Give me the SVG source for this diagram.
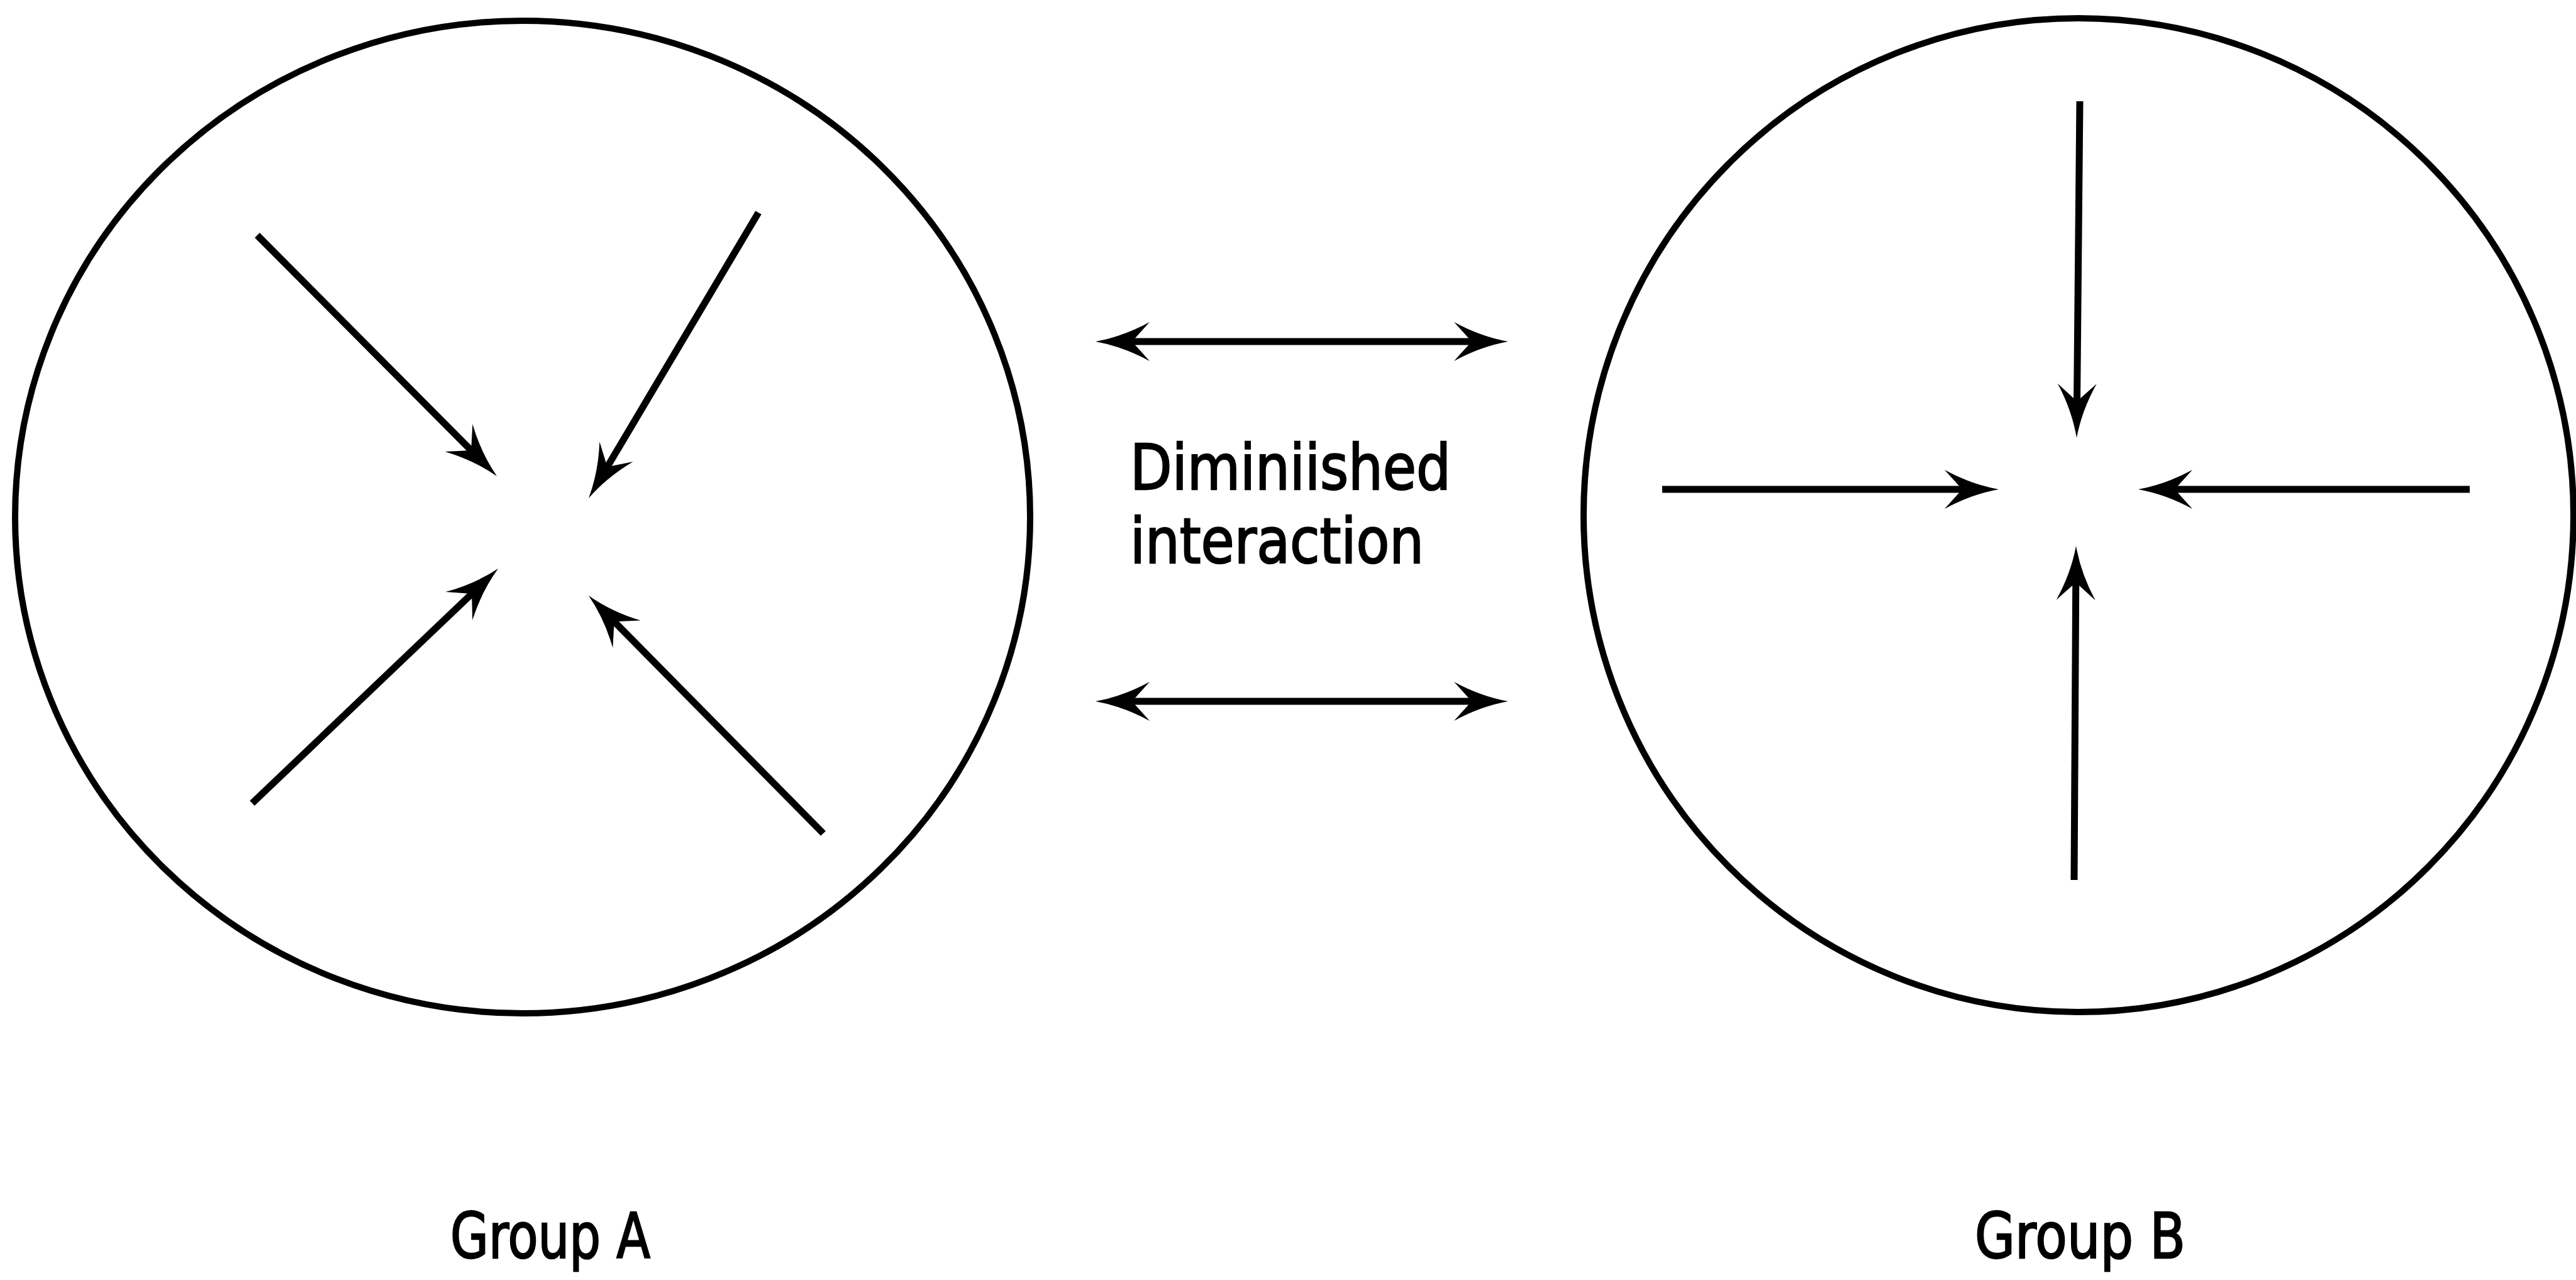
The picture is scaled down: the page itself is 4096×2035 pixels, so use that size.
<svg xmlns="http://www.w3.org/2000/svg" width="4096" height="2035" viewBox="0 0 4096 2035">
  <style>
    .ring { fill: none; stroke: #000; stroke-width: 10; }
    .link { fill: none; stroke: #000; stroke-width: 11; stroke-linecap: butt; }
    .label { font-family: "DejaVu Sans", "Liberation Sans", sans-serif; font-size: 100px; fill: #000; stroke: #000; stroke-width: 2.5; }
  </style>
  <defs>
    <!-- barbed arrowhead, tip 44 units ahead of the line end -->
    <marker id="head" markerUnits="userSpaceOnUse" viewBox="-50 -40 100 80" markerWidth="100" markerHeight="80" refX="0" refY="0" orient="auto-start-reverse" overflow="visible">
      <path d="M44,0 Q0,-8 -42,-31 L-14,0 L-42,31 Q0,8 44,0 Z" fill="#000"/>
    </marker>
  </defs>
  <rect width="4096" height="2035" fill="#fff"/>

  <g id="group-a">
    <ellipse class="ring" cx="831" cy="822" rx="807" ry="789"/>
    <text class="label" x="716" y="2000" textLength="318" lengthAdjust="spacingAndGlyphs">Group A</text>
  </g>

  <g id="group-b">
    <ellipse class="ring" cx="3305" cy="819" rx="787" ry="790"/>
    <text class="label" x="3140" y="2000" textLength="335" lengthAdjust="spacingAndGlyphs">Group B</text>
  </g>

  <g id="interaction-label">
    <text class="label" x="1797" y="778" textLength="510" lengthAdjust="spacingAndGlyphs">Diminiished</text>
    <text class="label" x="1797" y="895" textLength="467" lengthAdjust="spacingAndGlyphs">interaction</text>
  </g>

  <g id="connectors">
    <!-- inward arrows, group A -->
    <path class="link" d="M409,374 L759,725.8" marker-end="url(#head)"/>
    <path class="link" d="M1206,338 L958.5,754.2" marker-end="url(#head)"/>
    <path class="link" d="M401,1277 L760.2,934.4" marker-end="url(#head)"/>
    <path class="link" d="M1309,1325 L966.9,978.3" marker-end="url(#head)"/>
    <!-- inward arrows, group B -->
    <path class="link" d="M3307,161 L3302.4,652" marker-end="url(#head)"/>
    <path class="link" d="M2643,778 L3134,778" marker-end="url(#head)"/>
    <path class="link" d="M3927,778 L3444,778" marker-end="url(#head)"/>
    <path class="link" d="M3298,1399 L3300.8,912" marker-end="url(#head)"/>
    <!-- two-way arrows between the groups -->
    <path class="link" d="M1786,543 L2354,543" marker-start="url(#head)" marker-end="url(#head)"/>
    <path class="link" d="M1786,1115 L2354,1115" marker-start="url(#head)" marker-end="url(#head)"/>
  </g>
</svg>
